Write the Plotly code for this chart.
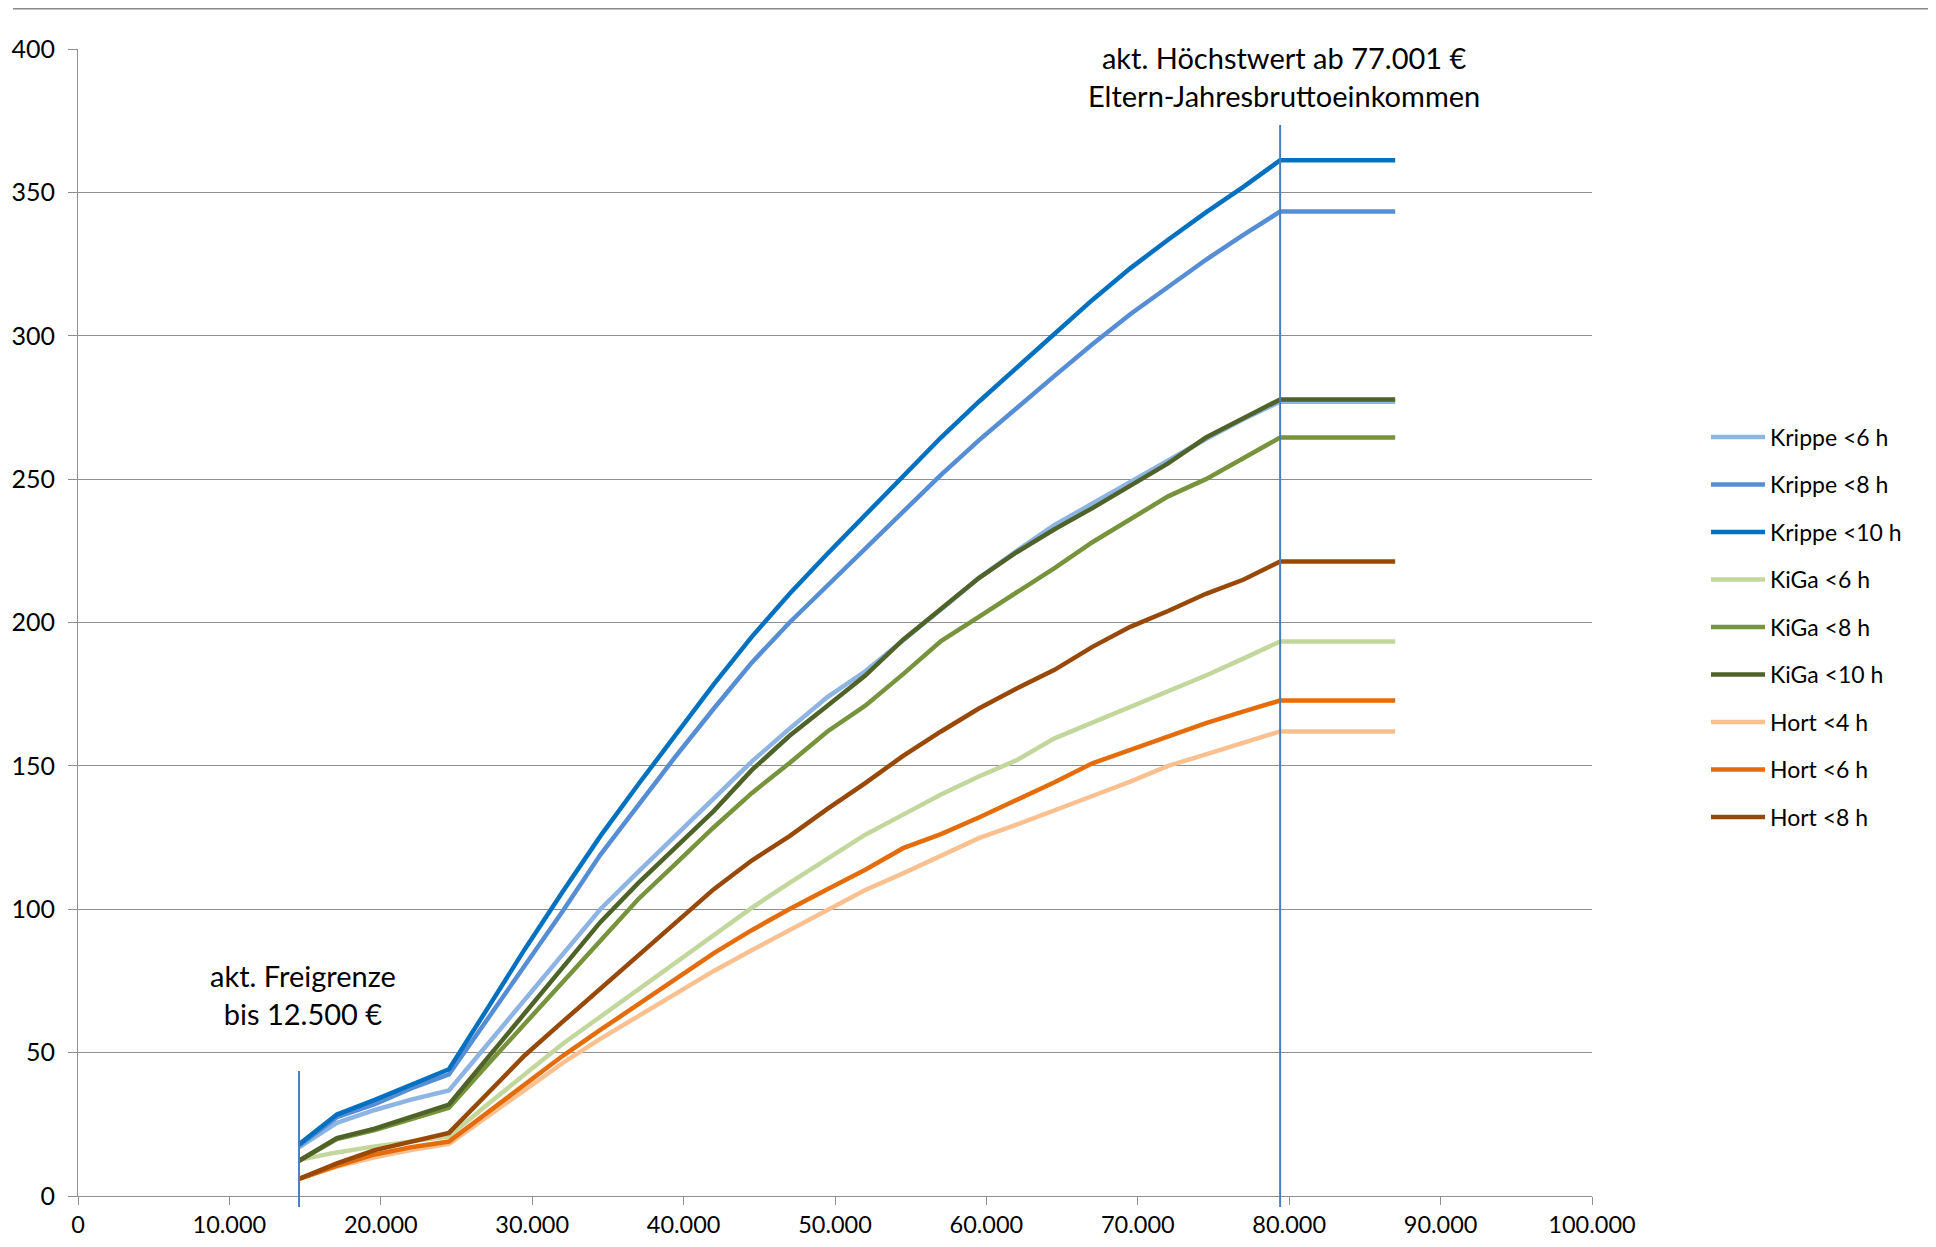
import plotly.graph_objects as go

# Income (x) grid in EUR
income = [14600, 17100, 19600, 22000, 24500, 27000, 29500, 32000, 34500, 37000,
          39500, 42000, 44500, 47000, 49500, 52000, 54500, 57000, 59500, 62000,
          64500, 67000, 69500, 72000, 74500, 77000, 79400, 87000]

krippe_6 = [17, 25.5, 30, 33.6, 36.8, 52.6, 68.4, 84.2, 100, 113, 126, 139, 151.5, 163,
            174, 183, 193.5, 204.5, 215.5, 225, 234, 241.5, 249, 256.5, 264, 271, 277, 277]
krippe_8 = [17.5, 27.5, 32, 37.5, 42.4, 61.4, 80.3, 99.2, 119, 136.5, 153.5, 170, 186, 200,
            213, 226, 238.9, 251.5, 263.5, 275, 286, 297, 307.5, 317, 326.5, 335.3, 343.3, 343.3]
krippe_10 = [18, 28.4, 33.5, 38.8, 44.2, 65, 86, 106, 125.5, 143.5, 161, 178.5, 195, 210,
             224, 237.5, 251, 264.5, 277, 289, 301, 312.5, 323.5, 333.5, 343, 352, 361.2, 361.2]
kiga_6 = [12.6, 15.2, 17.3, 19, 20.8, 31.7, 42.6, 53, 62.5, 72, 81.6, 91, 100.5, 109.2,
          117.8, 126, 133, 140, 146.3, 152, 159.6, 165, 170.8, 176, 181.5, 187.5, 193.4, 193.4]
kiga_8 = [12.3, 19.9, 23, 26.8, 30.8, 45.5, 60.1, 74.8, 89.4, 103.5, 116, 128.6, 140.5, 151,
          162, 171, 182, 193.5, 202, 210.5, 219, 228, 236, 244, 250, 257.5, 264.5, 264.5]
kiga_10 = [12.3, 20.2, 23.5, 27.5, 31.9, 47.8, 63.7, 79.6, 95.5, 109.1, 121.7, 134.3, 148.5, 160.5,
           171, 181.5, 194, 205, 215.5, 224.5, 232.5, 239.9, 247.5, 255.5, 264.5, 271.5, 277.8, 277.8]
hort_4 = [6, 10.3, 13.5, 16, 18.2, 27.5, 36.9, 46.3, 54.8, 62.7, 70.6, 78.5, 85.7, 92.8,
          99.8, 106.7, 112.5, 118.7, 124.8, 129.5, 134.3, 139.5, 144.5, 150, 154, 158.2, 162, 162]
hort_6 = [6, 10.5, 14.5, 17, 19, 29, 38.9, 48.8, 57.9, 66.8, 75.8, 84.7, 92.7, 100.1,
          107, 113.8, 121.3, 126.2, 132, 138, 144.3, 150.9, 155.5, 160.2, 164.9, 169, 172.8, 172.8]
hort_8 = [6, 11.4, 16, 19, 22, 35.5, 49, 60.7, 72.3, 84, 95.7, 107, 117, 125.5,
          135, 144, 153.5, 162, 170, 177, 183.5, 191.5, 198.5, 204, 210, 215, 221.3, 221.3]

series_names = ["Krippe <6 h", "Krippe <8 h", "Krippe <10 h",
                "KiGa <6 h", "KiGa <8 h", "KiGa <10 h",
                "Hort <4 h", "Hort <6 h", "Hort <8 h"]
series_values = [krippe_6, krippe_8, krippe_10, kiga_6, kiga_8, kiga_10, hort_4, hort_6, hort_8]
series_colors = ["#8EB4E3", "#558ED5", "#0070C0",
                 "#C3D69B", "#77933C", "#4F6228",
                 "#FAC090", "#E46C0A", "#984807"]

# Reference markers
freigrenze_x = 14600
freigrenze_top = 43.6
hoechst_x = 79400
hoechst_top = 373.5
x_ticks = [0, 10000, 20000, 30000, 40000, 50000, 60000, 70000, 80000, 90000, 100000]
y_ticks = [0, 50, 100, 150, 200, 250, 300, 350, 400]

FONT = "Lato, 'Open Sans', sans-serif"
GRID = "#8f8f8f"
MARKER_BLUE = "#4A7EBB"

W, H = 1928, 1239
L, T, PW, PH = 70, 41, 1514, 1147

fig = go.Figure()
for name, vals, col in zip(series_names, series_values, series_colors):
    fig.add_trace(go.Scatter(x=income, y=vals, name=name, mode="lines",
                             line=dict(color=col, width=4.5), legendgroup=name))

Y_MAX = 400.0
below = -11.0 / PH  # marker lines extend slightly below the axis
fig.add_shape(type="line", xref="x", yref="paper", x0=freigrenze_x, x1=freigrenze_x,
              y0=below, y1=freigrenze_top / Y_MAX, line=dict(color=MARKER_BLUE, width=2))
fig.add_shape(type="line", xref="x", yref="paper", x0=hoechst_x, x1=hoechst_x,
              y0=below, y1=hoechst_top / Y_MAX, line=dict(color=MARKER_BLUE, width=2))

# chart-area frame (top and right edges visible)
top_y = (T + PH - 0.8) / PH
right_x = (W - 5 - L) / PW
fig.add_shape(type="line", xref="paper", yref="paper", x0=(5 - L) / PW, x1=(W - L) / PW,
              y0=top_y, y1=top_y, line=dict(color="#8a8a8a", width=1.5))
fig.add_shape(type="line", xref="paper", yref="paper", x0=right_x, x1=right_x,
              y0=top_y, y1=-(H - T - PH) / PH, line=dict(color="#8a8a8a", width=1.5))

fig.add_annotation(x=14830, y=70.4, xref="x", yref="y",
                   text="akt. Freigrenze<br>bis 12.500 €", showarrow=False,
                   font=dict(family=FONT, size=29, color="#000000"), align="center")
fig.add_annotation(x=79657, y=0.9756, xref="x", yref="paper",
                   text="akt. Höchstwert ab 77.001 €<br>Eltern-Jahresbruttoeinkommen",
                   showarrow=False, font=dict(family=FONT, size=29, color="#000000"),
                   align="center", yanchor="middle")

fig.update_layout(
    template="none",
    width=W, height=H,
    margin=dict(l=L, r=W - L - PW, t=T, b=H - T - PH, autoexpand=False),
    paper_bgcolor="white", plot_bgcolor="white",
    separators=",.",
    font=dict(family=FONT, color="#000000"),
    showlegend=True,
    legend=dict(xref="container", yref="container", x=1698 / W, y=0.5004,
                xanchor="left", yanchor="middle", tracegroupgap=14.6, itemwidth=54,
                font=dict(family=FONT, size=23, color="#000000"),
                bgcolor="rgba(0,0,0,0)", borderwidth=0),
    xaxis=dict(range=[0, 100000], tickvals=x_ticks, tickformat=",d", automargin=False,
               showgrid=False, zeroline=False, showline=True, linecolor=GRID, linewidth=1,
               ticks="outside", ticklen=8, tickcolor=GRID, tickwidth=1,
               tickfont=dict(family=FONT, size=23.5, color="#000000")),
    yaxis=dict(range=[0, 400], tickvals=y_ticks, automargin=False,
               showgrid=True, gridcolor=GRID, gridwidth=1,
               zeroline=False, showline=True, linecolor=GRID, linewidth=1,
               ticks="outside", ticklen=9, tickcolor=GRID, tickwidth=1, ticklabelstandoff=8,
               tickfont=dict(family=FONT, size=25, color="#000000")),
)

fig.write_html("out.html")
